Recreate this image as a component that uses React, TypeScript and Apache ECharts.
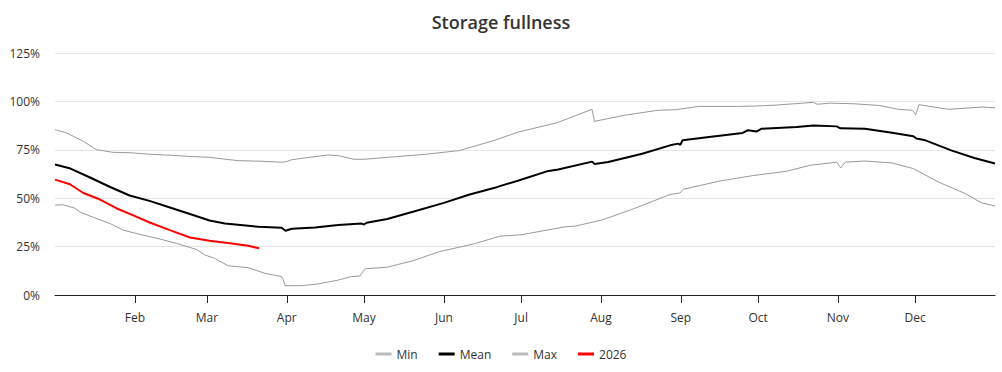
import React, { useEffect, useRef } from "react";
import * as echarts from "echarts";

// Day-of-year (Jan 1 = 0) and storage fullness in %
const minSeries: [number, number][] = [
  [0, 46.4], [3.2, 46.6], [7.8, 44.8], [9.7, 42.8], [14.8, 40.2], [21.4, 36.9], [26.5, 33.5],
  [33, 31.3], [40.8, 28.9], [47.3, 26.6], [55, 23.5], [58, 20.8], [62, 18.9], [67.3, 15.1],
  [75, 14.1], [81.5, 11.2], [88, 9.5], [88.7, 7.7], [89.3, 4.8], [95.8, 4.8], [102, 5.7],
  [110, 7.7], [115, 9.5], [118.4, 9.8], [120, 12.9], [120.8, 13.6], [128.8, 14.3], [139, 17.7],
  [149.5, 22.5], [162.4, 26.3], [172.8, 30.4], [181, 31.1], [198, 35.2], [202, 35.6],
  [212.3, 38.7], [224, 44.2], [238.8, 51.9], [242.7, 52.7], [244, 54.6], [258.2, 58.9],
  [271.1, 61.7], [284, 63.9], [293.2, 67.0], [303.5, 68.6], [305.1, 65.6], [306.8, 68.6],
  [314.5, 69.2], [325, 68.2], [333.3, 65.3], [343, 58.4], [353.4, 52.4], [359.8, 47.6], [365, 46.0],
];

const meanSeries: [number, number][] = [
  [0, 67.4], [6, 65.3], [13.6, 60.7], [21.4, 55.8], [29, 51.4], [37, 48.5], [44.6, 45.2],
  [52.4, 41.8], [60, 38.5], [66, 36.9], [79, 35.2], [88, 34.7], [89.5, 33.2], [92, 34.2],
  [101, 34.9], [110, 36.1], [119, 36.9], [120, 36.4], [121, 37.3], [129, 39.3], [139, 43.0],
  [151, 47.6], [161, 51.9], [171.5, 55.7], [180.3, 59.3], [191.6, 64.1], [195.4, 64.8],
  [208.6, 68.9], [209.5, 67.7], [214.8, 68.7], [228, 73.0], [238.8, 77.3], [242, 78.2],
  [242.8, 77.6], [243.7, 79.9], [254, 81.6], [267, 83.7], [269, 85.1], [272.5, 84.5],
  [274.4, 85.9], [288, 86.8], [294.5, 87.6], [303.5, 87.1], [305, 86.1], [314.5, 85.9],
  [325, 83.8], [333.3, 82.0], [334.5, 80.8], [338, 79.9], [348, 74.7], [357, 70.8], [365, 67.9],
];

const maxSeries: [number, number][] = [
  [0, 85.4], [4.5, 83.7], [11, 79.4], [16, 75.1], [22.5, 73.7], [29, 73.5], [37, 72.7],
  [44.6, 72.2], [52, 71.6], [60, 71.1], [71, 69.4], [80, 69.1], [88, 68.6], [90, 68.9],
  [92, 69.9], [97, 70.8], [106, 72.3], [110, 72.0], [116, 70.1], [120, 70.1], [131, 71.3],
  [144, 72.7], [157, 74.6], [170, 79.6], [180, 84.2], [195, 89.0], [208.5, 95.9], [209.5, 89.7],
  [221, 92.8], [234, 95.4], [241, 95.7], [250, 97.4], [265, 97.4], [272, 97.6], [280, 98.1],
  [294.5, 99.5], [296, 98.5], [301, 99.1], [310, 98.8], [320, 97.9], [327.5, 95.9], [333, 95.4],
  [334.2, 93.1], [335.5, 98.3], [347, 95.9], [360, 97.1], [365, 96.7],
];

const series2026: [number, number][] = [
  [0, 59.6], [5.8, 57.2], [11, 52.7], [17.5, 49.3], [24, 44.7], [30.4, 41.1], [37, 37.3],
  [44.6, 33.5], [52.4, 29.7], [60, 28.0], [68.6, 26.6], [75, 25.4], [79.3, 24.1],
];

const monthStarts = [31, 59, 90, 120, 151, 181, 212, 243, 273, 304, 334];
const monthLabels = ["Feb", "Mar", "Apr", "May", "Jun", "Jul", "Aug", "Sep", "Oct", "Nov", "Dec"];
const yTicks = [0, 25, 50, 75, 100, 125];

const FONT = "'Open Sans', 'Noto Sans', sans-serif";

export default function App() {
  const ref = useRef<HTMLDivElement>(null);
  useEffect(() => {
    document.body.style.margin = "0";
    if (!ref.current) return;
    const chart = echarts.init(ref.current, undefined, { renderer: "svg" });
    const gray = (name: string, data: [number, number][]) => ({
      name,
      type: "line",
      data,
      showSymbol: false,
      symbol: "none",
      itemStyle: { color: "#bbbbbb" },
      lineStyle: { color: "#999999", width: 1 },
    });
    chart.setOption({
      animation: false,
      textStyle: { fontFamily: FONT },
      title: {
        text: "Storage fullness",
        left: "center",
        top: 8,
        textStyle: { fontSize: 18, fontWeight: 600, color: "#333", fontFamily: FONT },
      },
      legend: {
        bottom: 7,
        left: "center",
        icon: "rect",
        itemWidth: 16,
        itemHeight: 3,
        itemGap: 21,
        textStyle: { fontSize: 12, color: "#333", fontFamily: FONT },
        data: ["Min", "Mean", "Max", "2026"],
      },
      grid: { left: 55, right: 7, top: 53, bottom: 77, containLabel: false },
      xAxis: {
        type: "value",
        min: 0,
        max: 365,
        splitLine: { show: false },
        axisLine: { show: true, lineStyle: { color: "#222", width: 1 } },
        axisTick: {
          show: true,
          length: 8,
          customValues: monthStarts,
          lineStyle: { color: "#222" },
        },
        axisLabel: {
          customValues: monthStarts,
          formatter: (v: number) => monthLabels[monthStarts.indexOf(Math.round(v))] ?? "",
          color: "#333",
          fontSize: 12,
          margin: 16,
          fontFamily: FONT,
        },
      },
      yAxis: {
        type: "value",
        min: 0,
        max: 125,
        interval: 25,
        axisLine: { show: false },
        axisTick: { show: false },
        splitLine: { lineStyle: { color: "#e6e6e6" } },
        axisLabel: {
          formatter: (v: number) => (yTicks.includes(v) ? `${v}%` : ""),
          color: "#333",
          fontSize: 12,
          margin: 15,
          fontFamily: FONT,
        },
      },
      series: [
        gray("Min", minSeries),
        {
          name: "Mean",
          type: "line",
          data: meanSeries,
          showSymbol: false,
          symbol: "none",
          itemStyle: { color: "#000" },
          lineStyle: { color: "#000", width: 2 },
          z: 3,
        },
        gray("Max", maxSeries),
        {
          name: "2026",
          type: "line",
          data: series2026,
          showSymbol: false,
          symbol: "none",
          itemStyle: { color: "#ff0000" },
          lineStyle: { color: "#ff0000", width: 2 },
          z: 4,
        },
      ],
    });
    return () => chart.dispose();
  }, []);
  return <div ref={ref} style={{ width: 1002, height: 372 }} />;
}
